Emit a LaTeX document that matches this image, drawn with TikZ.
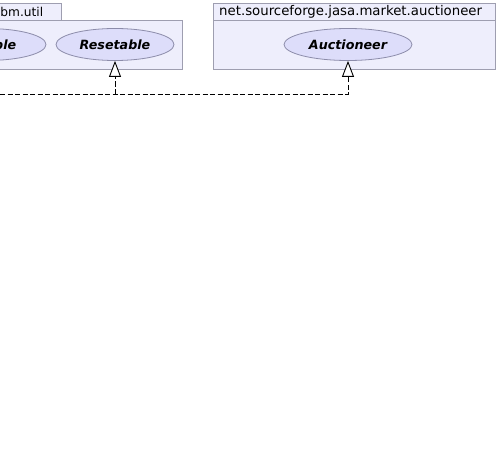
\documentclass[tikz,border=0pt]{standalone}
\usepackage{fontspec}
\setmainfont{DejaVu Sans}
\usetikzlibrary{arrows.meta,shapes.geometric}
\definecolor{pkgfill}{HTML}{EEEEFC}
\definecolor{pkgline}{HTML}{9E9EB0}
\definecolor{elfill}{HTML}{DDDDFA}
\definecolor{elline}{HTML}{8C8CAA}
\tikzset{
  pkg/.style={draw=pkgline,fill=pkgfill,line width=0.9pt},
  pkgname/.style={font=\fontsize{13.3}{15}\selectfont,inner sep=0pt},
  iface/.style={ellipse,draw=elline,fill=elfill,line width=0.8pt,minimum height=32pt,inner sep=0pt,
    font=\fontsize{12.7}{14}\selectfont\bfseries\itshape},
  dep/.style={draw=black,line width=0.9pt,dash pattern=on 5pt off 2.5pt,
    -{Triangle[open,length=16pt,width=12pt,fill=white]}}
}
\begin{document}
\begin{tikzpicture}[x=1pt,y=-1pt]
\useasboundingbox (0,0) rectangle (498,460);
\fill[white] (0,0) rectangle (498,460);
% left package
\draw[pkg] (-60,3) rectangle (61,20);
\draw[pkg] (-60,20) rectangle (182,69);
\node[pkgname,anchor=west,font=\fontsize{12.2}{14}\selectfont] (p1) at (0.2,11.6) {bm.util};
% right package
\draw[pkg] (213,3) rectangle (495,20);
\draw[pkg] (213,20) rectangle (495,69);
\node[pkgname,anchor=west] (p2) at (219,11.6) {net.sourceforge.jasa.market.auctioneer};
% interfaces
\node[iface,minimum width=118pt] (e1) at (-13,44.5) {};
\node[font=\fontsize{12.7}{14}\selectfont\bfseries\itshape,anchor=east,inner sep=0pt] (e1t) at (16.5,45) {ble};
\node[iface,minimum width=118pt] (res) at (115,44.5) {Resetable};
\node[iface,minimum width=128pt] (auc) at (348,44.5) {Auctioneer};
% connectors
\coordinate (s) at (0,94);
\coordinate (j) at (115,94);
\draw[dep] (s) -| (auc.south);
\draw[dep] (j) -- (res.south);
\end{tikzpicture}
\end{document}
